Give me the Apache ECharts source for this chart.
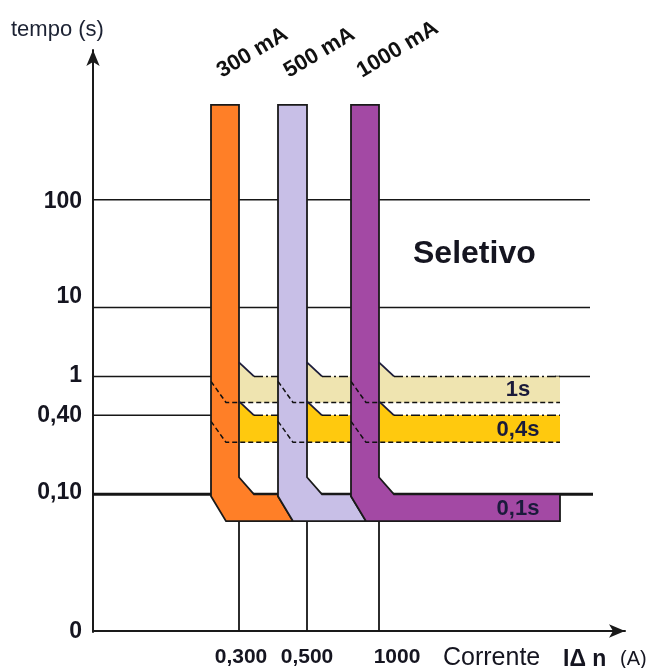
<!DOCTYPE html>
<html>
<head>
<meta charset="utf-8">
<script src="https://cdn.jsdelivr.net/npm/echarts@6/dist/echarts.min.js"></script>
<style>
html,body{margin:0;padding:0;background:#fff;}
#chart{width:653px;height:668px;}
</style>
</head>
<body>
<div id="chart"></div>
<script>
// ---- schematic data (axis units of the schematic time/current scale) ----
const devices = ['300 mA', '500 mA', '1000 mA'];
const curveLeft = [118, 185, 258];      // left edge of each trip curve
const curveRight = [146, 214, 286];     // rated residual current of each device (0,300 / 0,500 / 1000)
const curveTop = 527;
const tripLevel = 137;                  // 0,10 s
const curveBottom = 110;
const bandEnd = 467;

const yTickLabels = ['0', '0,10', '0,40', '1', '10', '100'];
const yLabelPos = [-1, 139, 216, 256, 335, 430];
const xTickLabels = ['0,300', '0,500', '1000'];
const xLabelPos = [148, 214, 304];

const bandNames = ['1s', '0,4s', '0,1s'];
const bandTop = [255, 216, 137];
const bandBottom = [229, 189, 110];
const bandLabelX = 425;

// reference lines: [level, from, to]
const refLines = [[432, 0, 497], [324, 0, 497], [255, 0, 118], [255, 462, 497], [216, 0, 118], [137, 0, 500]];

// ---- styles ----
const FONT = 'Liberation Sans';
const INK = '#151520';
const curveColors = ['#FF7F27', '#C8BFE7', '#A349A4'];
const bandColors = ['#EFE4B0', '#FFC90E'];

const chart = echarts.init(document.getElementById('chart'), null, {renderer: 'canvas', width: 653, height: 668});

function nextLeft(i) { return i < devices.length - 1 ? curveLeft[i + 1] : bandEnd; }

function lShape(i) {
  const xl = curveLeft[i], xr = curveRight[i];
  const last = i === devices.length - 1;
  const xn = nextLeft(i);
  const pts = [[xl, curveTop], [xr, curveTop], [xr, tripLevel + 17], [xr + 15, tripLevel], [xn, tripLevel]];
  if (!last) { pts.push([xn, tripLevel - 2], [xn + 15, curveBottom]); }
  else { pts.push([xn, curveBottom]); }
  pts.push([xl + 15, curveBottom], [xl, tripLevel - 2]);
  return pts;
}

const bandIdx = [];
for (let b = 0; b < 2; b++) for (let i = 0; i < devices.length; i++) bandIdx.push([b, i]);

const coords = (api, pts) => pts.map(p => api.coord(p));

const option = {
  animation: false,
  grid: {left: 93, right: 28, top: 50, bottom: 36},
  xAxis: {
    type: 'value', min: 0, max: 532,
    splitLine: {show: false},
    axisTick: {show: false},
    axisLine: {show: true, symbol: ['none', 'arrow'], symbolSize: [10, 16], lineStyle: {color: '#1a1a1a', width: 2}},
    axisLabel: {
      customValues: xLabelPos,
      formatter: v => xTickLabels[xLabelPos.indexOf(v)] || '',
      fontFamily: FONT, fontWeight: 'bold', fontSize: 21, color: INK, margin: 15
    }
  },
  yAxis: {
    type: 'value', min: -1, max: 582,
    splitLine: {show: false},
    axisTick: {show: false},
    axisLine: {show: true, symbol: ['none', 'arrow'], symbolSize: [10, 16], lineStyle: {color: '#1a1a1a', width: 2}},
    axisLabel: {
      customValues: yLabelPos,
      formatter: v => yTickLabels[yLabelPos.indexOf(v)] || '',
      fontFamily: FONT, fontWeight: 'bold', fontSize: 23, color: INK, margin: 11
    }
  },
  graphic: [
    {type: 'text', left: 11, top: 19, style: {text: 'tempo (s)', font: '22px "Liberation Sans"', fill: '#1c2233'}},
    {type: 'text', left: 413, top: 238, style: {text: 'Seletivo', font: 'bold 32px "Liberation Sans"', fill: INK}},
    {type: 'text', left: 443, top: 646, style: {text: 'Corrente', font: '25px "Liberation Sans"', fill: INK}},
    {type: 'text', left: 563, top: 648, style: {text: 'IΔ n', font: 'bold 23px "Liberation Sans"', fill: INK}},
    {type: 'text', left: 620, top: 649, style: {text: '(A)', font: '20px "Liberation Sans"', fill: INK}}
  ],
  series: [
    { // reference lines
      type: 'custom', z: 1, silent: true,
      data: refLines.map((r, k) => [k]),
      renderItem: (params, api) => {
        const r = refLines[params.dataIndex];
        const a = api.coord([r[1], r[0]]), b = api.coord([r[2], r[0]]);
        return {type: 'line', shape: {x1: a[0], y1: a[1], x2: b[0], y2: b[1]},
          style: {stroke: '#161616', lineWidth: r[0] === tripLevel ? 3 : 1.5}};
      }
    },
    { // current drop lines
      type: 'custom', z: 1, silent: true,
      data: curveRight.map((x, k) => [k]),
      renderItem: (params, api) => {
        const x = curveRight[params.dataIndex];
        const a = api.coord([x, 0]), b = api.coord([x, curveBottom]);
        return {type: 'line', shape: {x1: a[0], y1: a[1], x2: b[0], y2: b[1]}, style: {stroke: '#161616', lineWidth: 1.8}};
      }
    },
    { // selectivity bands (1s, 0,4s)
      type: 'custom', z: 2, silent: true,
      data: bandIdx,
      renderItem: (params, api) => {
        const [b, i] = bandIdx[params.dataIndex];
        const xr = curveRight[i], xn = nextLeft(i), t = bandTop[b], bt = bandBottom[b];
        const pts = [[xr, t + 14], [xr + 15, t], [xn, t], [xn, bt], [xr, bt]];
        return {type: 'polygon', shape: {points: coords(api, pts)}, style: {fill: bandColors[b]}};
      }
    },
    { // trip curves
      type: 'custom', z: 3, silent: true,
      data: devices.map((d, k) => [k]),
      renderItem: (params, api) => {
        const i = params.dataIndex;
        return {type: 'polygon', shape: {points: coords(api, lShape(i))},
          style: {fill: curveColors[i], stroke: '#1a1a1a', lineWidth: 1.8}};
      }
    },
    { // band boundaries
      type: 'custom', z: 4, silent: true,
      data: bandIdx,
      renderItem: (params, api) => {
        const [b, i] = bandIdx[params.dataIndex];
        const xl = curveLeft[i], xr = curveRight[i], xn = nextLeft(i), t = bandTop[b], bt = bandBottom[b];
        return {type: 'group', children: [
          {type: 'polyline', shape: {points: coords(api, [[xl, bt + 21], [xl + 15, bt], [xn, bt]])},
            style: {stroke: '#111', lineWidth: 1.5, lineDash: [5, 3], fill: null}},
          {type: 'polyline', shape: {points: coords(api, [[xr, t + 14], [xr + 15, t]])},
            style: {stroke: '#1b1b3a', lineWidth: 1.8, fill: null}},
          {type: 'polyline', shape: {points: coords(api, [[xr + 15, t], [xn, t]])},
            style: {stroke: '#111', lineWidth: 1.5, lineDash: [9, 3, 2, 3], fill: null}}
        ]};
      }
    },
    { // band labels
      type: 'custom', z: 5, silent: true,
      data: bandNames.map((n, k) => [k]),
      renderItem: (params, api) => {
        const k = params.dataIndex;
        const p = api.coord([bandLabelX, (bandTop[k] + bandBottom[k]) / 2]);
        return {type: 'text', x: p[0], y: p[1] + 1,
          style: {text: bandNames[k], fill: '#1a1a3a', font: 'bold 22px "Liberation Sans"', align: 'center', verticalAlign: 'middle'}};
      }
    },
    { // device labels
      type: 'custom', z: 5, silent: true,
      data: devices.map((d, k) => [k]),
      renderItem: (params, api) => {
        const k = params.dataIndex;
        const p = api.coord([curveLeft[k], curveTop]);
        return {type: 'text', x: p[0] + 8, y: p[1] - 32, rotation: 31 * Math.PI / 180,
          style: {text: devices[k], fill: '#111', font: 'bold 22px "Liberation Sans"', align: 'left', verticalAlign: 'middle'}};
      }
    }
  ]
};
chart.setOption(option);
</script>
</body>
</html>
